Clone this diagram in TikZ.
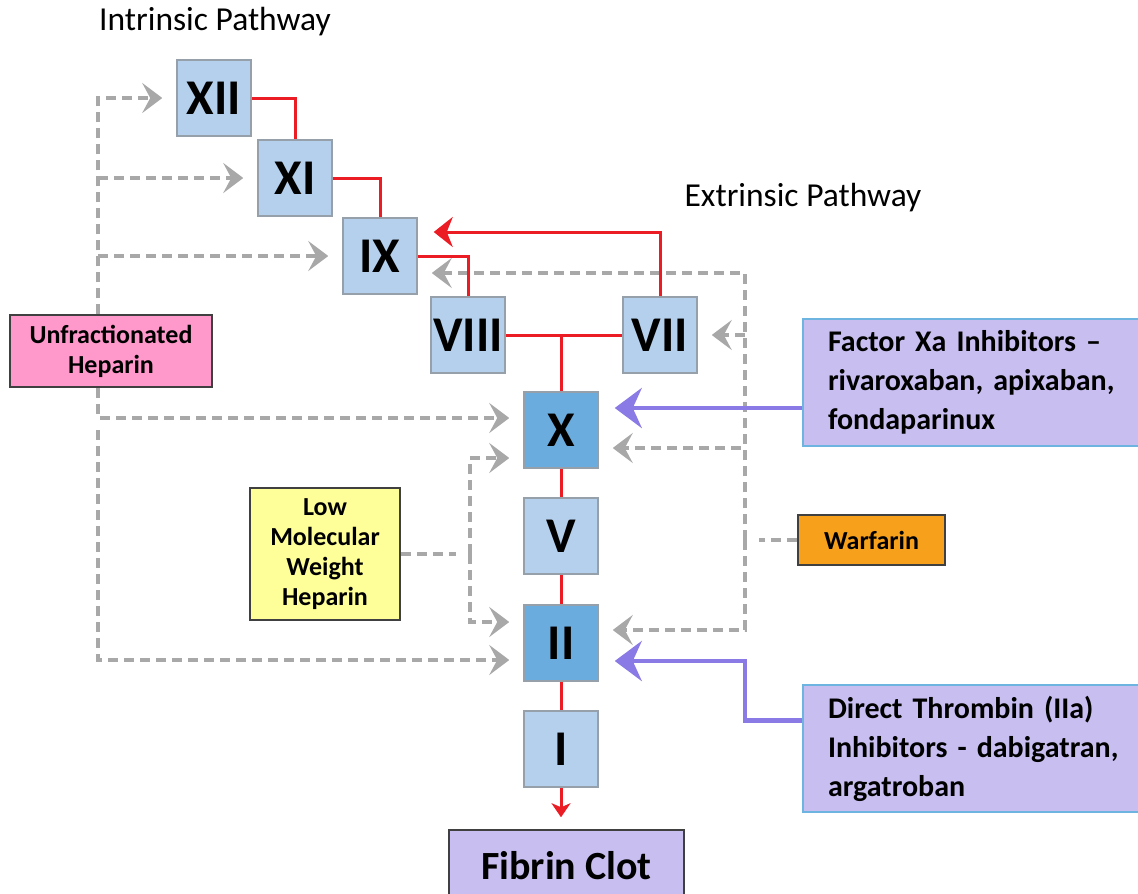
\documentclass[tikz,border=0pt]{standalone}
\usepackage{fontspec}
\setmainfont{Carlito}
\usetikzlibrary{arrows.meta,calc}
\hyphenpenalty=10000

\definecolor{factorblue}{RGB}{181,208,236}
\definecolor{factordark}{RGB}{106,172,222}
\definecolor{boxgray}{RGB}{150,160,170}
\definecolor{actred}{RGB}{236,28,36}
\definecolor{inhibgray}{RGB}{168,168,168}
\definecolor{drugpurple}{RGB}{138,122,230}
\definecolor{lavender}{RGB}{201,190,240}
\definecolor{edgeblue}{RGB}{110,180,225}
\definecolor{hepink}{RGB}{255,153,204}
\definecolor{lmwhyellow}{RGB}{255,255,153}
\definecolor{warforange}{RGB}{247,160,28}

\tikzset{
    factor/.style={draw=boxgray,line width=1.5pt,fill=factorblue,minimum width=74pt,minimum height=76pt,inner sep=0pt,font=\fontsize{50}{56}\selectfont\bfseries},
    factorkey/.style={factor,fill=factordark},
    drugbox/.style={draw=black!75,line width=1.5pt,align=center,inner sep=0pt,font=\fontsize{26}{30}\selectfont\bfseries},
    inhibbox/.style={draw=edgeblue,line width=2pt,fill=lavender,align=left,text width=310pt,inner xsep=25pt,minimum height=127pt,font=\fontsize{30}{39}\selectfont\bfseries},
    pathlabel/.style={font=\fontsize{33.5}{38}\selectfont},
    act/.style={draw=actred,line width=3pt},
    inhib/.style={draw=inhibgray,line width=3.3pt,dash pattern=on 10pt off 6pt,-{Stealth[length=20pt,width=30pt,inset=8pt]},shorten >=14pt},
    block/.style={draw=drugpurple,line width=4.5pt,-{Stealth[length=27pt,width=40pt,inset=9pt]},shorten >=16pt}
}

\begin{document}
\begin{tikzpicture}[x=1pt,y=-1pt]

        \useasboundingbox (0,0) rectangle (1138,894);

        % pathway titles
        \node (intr) at (215,22)[pathlabel]{Intrinsic Pathway};
        \node (extr) at (803,198)[pathlabel]{Extrinsic Pathway};

        % clotting factors
        \node (XII) at (214,98)[factor]{XII};
        \node (XI) at (295,178)[factor]{XI};
        \node (IX) at (380,256)[factor]{IX};
        \node (VIII) at (468,335)[factor]{VIII};
        \node (VII) at (660,335)[factor]{VII};
        \node (X) at (561,430)[factorkey]{X};
        \node (V) at (561,536)[factor]{V};
        \node (II) at (561,643)[factorkey]{II};
        \node (I) at (561,749)[factor]{I};

        \node (clot) at (566.5,866)[draw=black!75,line width=1.5pt,fill=lavender,minimum width=235pt,minimum height=72pt,font=\fontsize{40}{44}\selectfont\bfseries]{Fibrin Clot};

        % drugs
        \node (ufh) at (111,351)[drugbox,fill=hepink,minimum width=202pt,minimum height=72pt]{Unfractionated\\Heparin};
        \node (lmwh) at (325,554)[drugbox,fill=lmwhyellow,minimum width=150pt,minimum height=132pt]{Low\\Molecular\\Weight\\Heparin};
        \node (warf) at (871.5,540)[drugbox,fill=warforange,minimum width=147pt,minimum height=50pt]{Warfarin};
        \node (fxa) at (983,382)[inhibbox]{Factor Xa Inhibitors --\\rivaroxaban, apixaban,\\fondaparinux};
        \node (dti) at (983,748.5)[inhibbox]{Direct Thrombin (IIa)\\Inhibitors - dabigatran,\\argatroban};

        \coordinate (ufhx) at (98,0);
        \coordinate (lmwhx) at (470,0);
        \coordinate (warfx) at (745,0);
        \coordinate (dtiout) at ([yshift=28pt]dti.west);

        % heparin
        \draw[inhib] (ufhx |- ufh.north) |- (XII.west);
        \draw[inhib] (ufhx |- XI.west) -- (XI.west);
        \draw[inhib] (ufhx |- IX.west) -- (IX.west);
        \draw[inhib] (ufhx |- ufh.south) |- ([yshift=12pt]X.west);
        \draw[inhib] (ufhx |- X.west) |- ([yshift=-17pt]II.west);

        % low molecular weight heparin
        \draw[inhib,-] (lmwh.east) -- (lmwhx |- lmwh.east);
        \draw[inhib] (lmwhx |- lmwh.east) |- ([yshift=-28pt]X.west);
        \draw[inhib] (lmwhx |- lmwh.east) |- ([yshift=21pt]II.west);

        % warfarin
        \draw[inhib,-] (warf.west) -- (warfx |- warf.west);
        \draw[inhib] (warfx |- warf.west) |- ([yshift=-17pt]IX.east);
        \draw[inhib] (warfx |- VII.east) -- (VII.east);
        \draw[inhib] (warfx |- warf.west) |- ([yshift=-18pt]X.east);
        \draw[inhib] (warfx |- warf.west) |- ([yshift=13pt]II.east);

        % cascade
        \draw[act] (XII.east) -| (XI.north);
        \draw[act] (XI.east) -| (IX.north);
        \draw[act] (IX.east) -| (VIII.north);
        \draw[act,-{Stealth[length=19pt,width=30pt,inset=6pt]}] (VII.north) |- ([xshift=16pt,yshift=24pt]IX.east);
        \draw[act] (VIII.east) -- (VII.west);
        \draw[act] (VIII.east -| X.north) -- (X.north);
        \draw[act] (X) -- (V);
        \draw[act] (V) -- (II);
        \draw[act] (II) -- (I);
        \draw[act,-{Stealth[length=14pt,width=19pt,inset=4pt]}] (I.south) -- ([yshift=12pt]I.south |- clot.north);

        % direct inhibitors
        \draw[block] ([yshift=-26pt]fxa.west) -- ([yshift=-26pt]fxa.west -| X.east);
        \draw[block] (dtiout) -- (warfx |- dtiout) |- ([yshift=-18pt]II.east);

\end{tikzpicture}
\end{document}
